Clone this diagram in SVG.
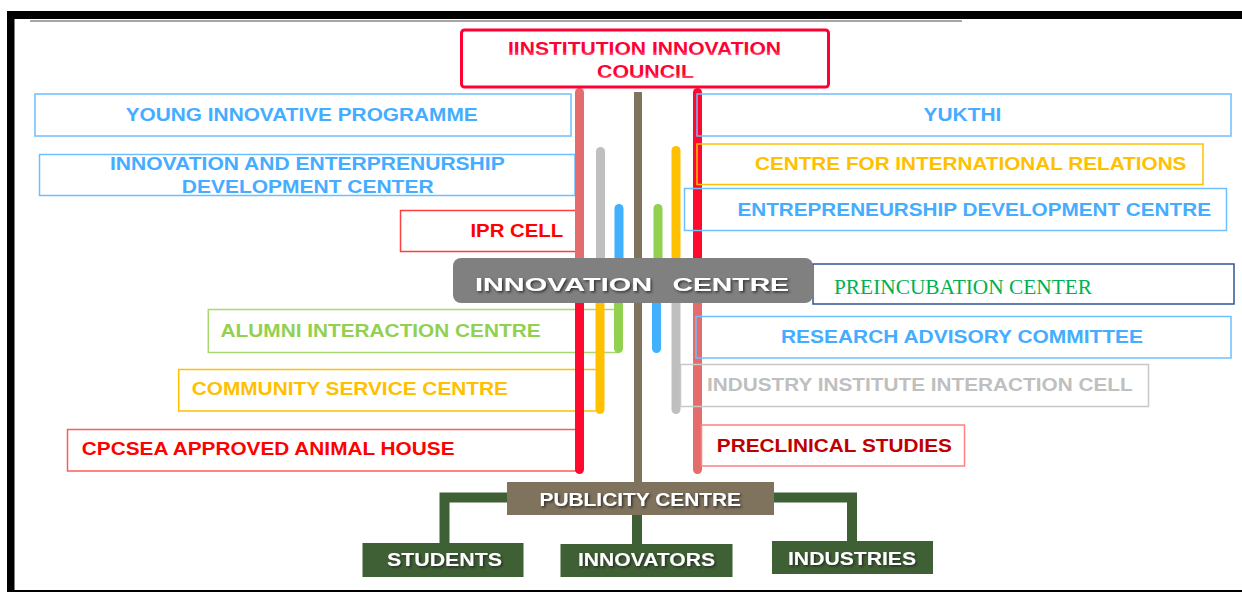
<svg xmlns="http://www.w3.org/2000/svg" width="1242" height="592" viewBox="0 0 1242 592">
<style>
.t{font-family:"Liberation Sans",Arial,sans-serif;font-weight:bold;font-size:19px}
.box{fill:none;stroke-width:1.5}
.bl{stroke:#6DBFFF}.blt{fill:#45ADFF}
.yl{stroke:#FFC000}.ylt{fill:#FFC000}
.gr{stroke:#A9D96E}.grt{fill:#92D050}
.rd{stroke:#FF4040}.rdt{fill:#FF0000}
.gy{stroke:#C8C8C8}.gyt{fill:#BFBFBF}
.ln{fill:none;stroke-width:9;stroke-linecap:round}
.conn{fill:none;stroke:#3F6034;stroke-width:10}
.wt{fill:#FFFFFF}
</style>
<defs>
<filter id="sh" x="-5%" y="-20%" width="110%" height="150%">
<feDropShadow dx="1.5" dy="1.5" stdDeviation="0.8" flood-color="#202020" flood-opacity="0.8"/>
</filter>
<linearGradient id="refl" x1="0" y1="0" x2="0" y2="1">
<stop offset="0" stop-color="#FF0033"/>
<stop offset="0.6" stop-color="#FF0033"/>
<stop offset="1" stop-color="#FF8FA5"/>
</linearGradient>
</defs>
<rect width="1242" height="592" fill="#FFFFFF"/>
<g id="frame">
<rect x="7" y="11" width="1235" height="8" fill="#000"/>
<rect x="7" y="11" width="7.5" height="581" fill="#000"/>
<rect x="7" y="590" width="1235" height="2" fill="#000"/>
<rect x="30" y="20" width="932" height="2" fill="#A6A6A6"/>
</g>
<g id="left-boxes">
<g id="young">
<rect class="box bl" x="35" y="94" width="536" height="42"/>
<text class="t blt" x="125.7" y="120.7" textLength="352" lengthAdjust="spacingAndGlyphs">YOUNG INNOVATIVE PROGRAMME</text>
</g>
<g id="iedc">
<rect class="box bl" x="39.5" y="154.5" width="535.5" height="41"/>
<text class="t blt" x="110" y="170" textLength="394.7" lengthAdjust="spacingAndGlyphs">INNOVATION AND ENTERPRENURSHIP</text>
<text class="t blt" x="181.8" y="192.7" textLength="251.8" lengthAdjust="spacingAndGlyphs">DEVELOPMENT CENTER</text>
</g>
<g id="ipr">
<rect class="box rd" x="400.5" y="210.5" width="178.5" height="41"/>
<text class="t rdt" x="470.4" y="236.7" textLength="92.8" lengthAdjust="spacingAndGlyphs">IPR CELL</text>
</g>
<g id="alumni">
<rect class="box gr" x="208.3" y="309.5" width="410" height="43"/>
<text class="t grt" x="220.6" y="336.7" textLength="320" lengthAdjust="spacingAndGlyphs">ALUMNI INTERACTION CENTRE</text>
</g>
<g id="community">
<rect class="box yl" x="178.7" y="369.5" width="421" height="41.5"/>
<text class="t ylt" x="191.7" y="395" textLength="316.3" lengthAdjust="spacingAndGlyphs">COMMUNITY SERVICE CENTRE</text>
</g>
<g id="cpcsea">
<rect class="box" stroke="#FF5B5B" x="67.5" y="429.5" width="512" height="41.5"/>
<text class="t rdt" x="81.8" y="455" textLength="372.7" lengthAdjust="spacingAndGlyphs">CPCSEA APPROVED ANIMAL HOUSE</text>
</g>
</g>
<g id="connectors">
<line class="ln" x1="579.5" y1="92.5" x2="579.5" y2="262" stroke="#E46C6C"/>
<line class="ln" x1="579.5" y1="300" x2="579.5" y2="469.5" stroke="#FF0A2F"/>
<line class="ln" x1="697.5" y1="92.5" x2="697.5" y2="262" stroke="#FF0A2F"/>
<line class="ln" x1="697.5" y1="300" x2="697.5" y2="469.5" stroke="#E46C6C"/>
<line class="ln" x1="600.5" y1="151.5" x2="600.5" y2="262" stroke="#BFBFBF"/>
<line class="ln" x1="676" y1="300" x2="676" y2="409.5" stroke="#BFBFBF"/>
<line class="ln" x1="676" y1="150.5" x2="676" y2="262" stroke="#FFC000"/>
<line class="ln" x1="600" y1="300" x2="600" y2="409.5" stroke="#FFC000"/>
<line class="ln" x1="619" y1="208.5" x2="619" y2="262" stroke="#41B0FF"/>
<line class="ln" x1="656.5" y1="300" x2="656.5" y2="348.5" stroke="#41B0FF"/>
<line class="ln" x1="658" y1="208.5" x2="658" y2="262" stroke="#92D050"/>
<line class="ln" x1="618.5" y1="300" x2="618.5" y2="348.5" stroke="#92D050"/>
<line x1="638" y1="92" x2="638" y2="484" stroke="#7F735E" stroke-width="8"/>
<path class="conn" d="M509,497.5 H444.5 V545"/>
<path class="conn" d="M771,497.5 H852 V543"/>
<path class="conn" d="M637,513 V546"/>
</g>
<g id="iic">
<rect x="461.5" y="30" width="367" height="57" rx="3" fill="#FFFFFF" stroke="#FF0033" stroke-width="3"/>
<text class="t" x="508" y="55" font-size="20" fill="url(#refl)" textLength="273" lengthAdjust="spacingAndGlyphs">IINSTITUTION INNOVATION</text>
<text class="t" x="597" y="78" font-size="20" fill="url(#refl)" textLength="97" lengthAdjust="spacingAndGlyphs">COUNCIL</text>
</g>
<g id="yukthi">
<rect class="box bl" x="697" y="94" width="534" height="42"/>
<text class="t blt" x="923.6" y="120.7" textLength="77.8" lengthAdjust="spacingAndGlyphs">YUKTHI</text>
</g>
<g id="cfir">
<rect class="box yl" x="697" y="144" width="506" height="40.5"/>
<text class="t ylt" x="755" y="170" textLength="431.4" lengthAdjust="spacingAndGlyphs">CENTRE FOR INTERNATIONAL RELATIONS</text>
</g>
<g id="edc">
<rect class="box bl" x="684.5" y="188.5" width="542" height="42"/>
<text class="t blt" x="737.4" y="216" textLength="473.6" lengthAdjust="spacingAndGlyphs">ENTREPRENEURSHIP DEVELOPMENT CENTRE</text>
</g>
<g id="preincubation">
<rect class="box" stroke="#2F5597" x="813" y="264" width="421" height="40"/>
<text x="834" y="294" font-family="'Liberation Serif','Times New Roman',serif" font-size="21" fill="#00B050" textLength="258" lengthAdjust="spacingAndGlyphs">PREINCUBATION CENTER</text>
</g>
<g id="rac">
<rect class="box bl" x="696" y="316.5" width="535" height="41.5"/>
<text class="t blt" x="781" y="342.7" textLength="362" lengthAdjust="spacingAndGlyphs">RESEARCH ADVISORY COMMITTEE</text>
</g>
<g id="iiic">
<rect class="box gy" x="680.5" y="364.5" width="468" height="42"/>
<text class="t gyt" x="707" y="390.7" textLength="425.6" lengthAdjust="spacingAndGlyphs">INDUSTRY INSTITUTE INTERACTION CELL</text>
</g>
<g id="preclinical">
<rect class="box" stroke="#FF8080" x="701.5" y="425" width="263" height="41"/>
<text class="t" fill="#C00000" x="716.8" y="452.3" textLength="235.2" lengthAdjust="spacingAndGlyphs">PRECLINICAL STUDIES</text>
</g>
<g id="innovation-centre">
<rect x="453" y="258" width="360" height="45" rx="8" fill="#808080"/>
<text class="t wt" y="290.5" font-size="26.5" filter="url(#sh)"><tspan x="475" textLength="177" lengthAdjust="spacingAndGlyphs">INNOVATION</tspan><tspan x="672.5" textLength="116.5" lengthAdjust="spacingAndGlyphs">CENTRE</tspan></text>
</g>
<g id="publicity">
<rect x="507" y="482" width="267" height="33" fill="#7F735E"/>
<text class="t wt" x="539.5" y="506" font-size="18.5" textLength="201.5" lengthAdjust="spacingAndGlyphs" filter="url(#sh)">PUBLICITY CENTRE</text>
</g>
<g id="students">
<rect x="362.5" y="543" width="161" height="34" fill="#3F6034"/>
<text class="t wt" x="387" y="566" font-size="18.5" textLength="115" lengthAdjust="spacingAndGlyphs" filter="url(#sh)">STUDENTS</text>
</g>
<g id="innovators">
<rect x="560.5" y="544" width="172" height="33" fill="#3F6034"/>
<text class="t wt" x="578" y="566" font-size="18.5" textLength="137" lengthAdjust="spacingAndGlyphs" filter="url(#sh)">INNOVATORS</text>
</g>
<g id="industries">
<rect x="772" y="541" width="161" height="33" fill="#3F6034"/>
<text class="t wt" x="788" y="565" font-size="18.5" textLength="128" lengthAdjust="spacingAndGlyphs" filter="url(#sh)">INDUSTRIES</text>
</g>
</svg>
